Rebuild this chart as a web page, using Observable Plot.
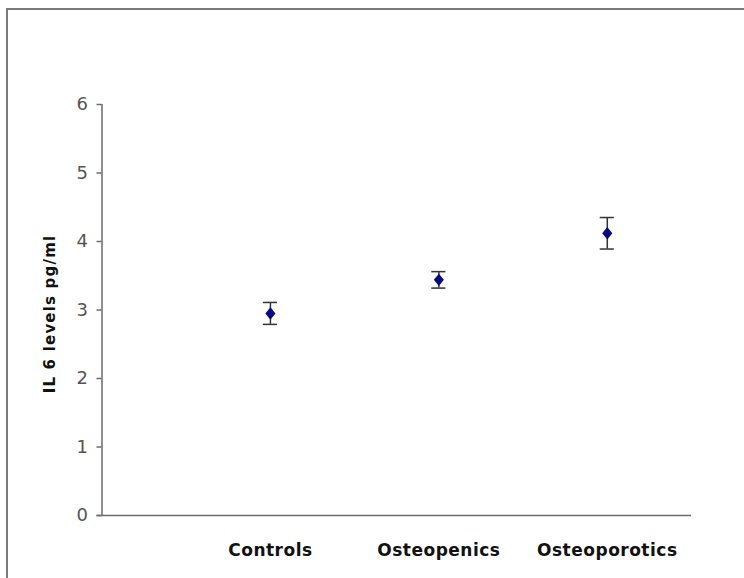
<!DOCTYPE html>
<html>
<head>
<meta charset="utf-8">
<script src="https://cdn.jsdelivr.net/npm/d3@7"></script>
<script src="https://cdn.jsdelivr.net/npm/@observablehq/plot@0.6"></script>
<style>
  html, body { margin: 0; padding: 0; background: #fff; }
  #wrap { position: relative; width: 744px; height: 578px; overflow: hidden; background: #fff; }
  #frame { position: absolute; left: 6px; top: 8px; width: 900px; height: 800px; border: 2px solid #7a7a7a; box-sizing: border-box; }
  #chart { position: absolute; left: 0; top: 0; }
</style>
</head>
<body>
<div id="wrap"><div id="frame"></div><div id="chart"></div></div>
<script>
const categories = ["Controls", "Osteopenics", "Osteoporotics"];
const positions = [1, 2, 3];
const means = [2.95, 3.44, 4.12];
const errors = [0.16, 0.12, 0.23];
const yTicks = [0, 1, 2, 3, 4, 5, 6];
const yTitle = "IL 6 levels pg/ml";

const data = categories.map((c, i) => ({cat: c, pos: positions[i], mean: means[i], err: errors[i]}));

const diamond = {
  draw(ctx, size) {
    const r = Math.sqrt(size / Math.PI);
    const w = r * 1.1, h = r * 1.35;
    ctx.moveTo(0, -h);
    ctx.lineTo(w, 0);
    ctx.lineTo(0, h);
    ctx.lineTo(-w, 0);
    ctx.closePath();
  }
};

const capHalf = 0.042;

const chart = Plot.plot({
  width: 744,
  height: 578,
  marginLeft: 101.5,
  marginRight: 53,
  marginTop: 104,
  marginBottom: 63,
  style: {fontFamily: "DejaVu Sans, sans-serif", fontSize: "14px", color: "#4a4a4a", background: "transparent", overflow: "visible"},
  x: {type: "linear", domain: [0, 3.5], axis: null},
  y: {domain: [0, 6], ticks: yTicks, tickSize: 5, tickPadding: 8, label: null, tickFormat: () => ""},
  marks: [
    Plot.ruleY([0], {x1: -0.03, x2: 3.5, stroke: "#6b6b6b", strokeWidth: 1.5}),
    Plot.ruleX([0], {y1: 0, y2: 6, stroke: "#6b6b6b", strokeWidth: 1.5}),
    Plot.text(yTicks, {x: 0, y: d => d, text: d => String(d), dx: -14, textAnchor: "end", fontSize: 18, fill: "#555"}),
    Plot.ruleX(data, {x: "pos", y1: d => d.mean - d.err, y2: d => d.mean + d.err, stroke: "#333", strokeWidth: 1.5}),
    Plot.ruleY(data, {y: d => d.mean + d.err, x1: d => d.pos - capHalf, x2: d => d.pos + capHalf, stroke: "#333", strokeWidth: 1.5}),
    Plot.ruleY(data, {y: d => d.mean - d.err, x1: d => d.pos - capHalf, x2: d => d.pos + capHalf, stroke: "#333", strokeWidth: 1.5}),
    Plot.dot(data, {x: "pos", y: "mean", symbol: diamond, r: 4.6, fill: "#0a0a80", stroke: "none"}),
    Plot.text(data, {x: "pos", y: 0, text: "cat", dy: 35, fontSize: 17, fontWeight: "bold", fill: "#111"}),
    Plot.text([yTitle], {frameAnchor: "left", textAnchor: "middle", dx: -52, dy: 4, rotate: -90, fontSize: 15, fontWeight: "bold", fill: "#111"})
  ]
});
const svg = d3.select(chart);
svg.selectAll("text").filter(function() { return this.textContent === yTitle; }).attr("letter-spacing", "1.2px");
svg.selectAll("text").filter(function() { return categories.includes(this.textContent); }).attr("letter-spacing", "0.5px");
svg.selectAll("g[aria-label^='y-axis'] path, g[aria-label^='y-axis'] line").attr("stroke", "#6b6b6b").attr("stroke-width", 1.5);
document.getElementById("chart").appendChild(chart);
</script>
</body>
</html>
